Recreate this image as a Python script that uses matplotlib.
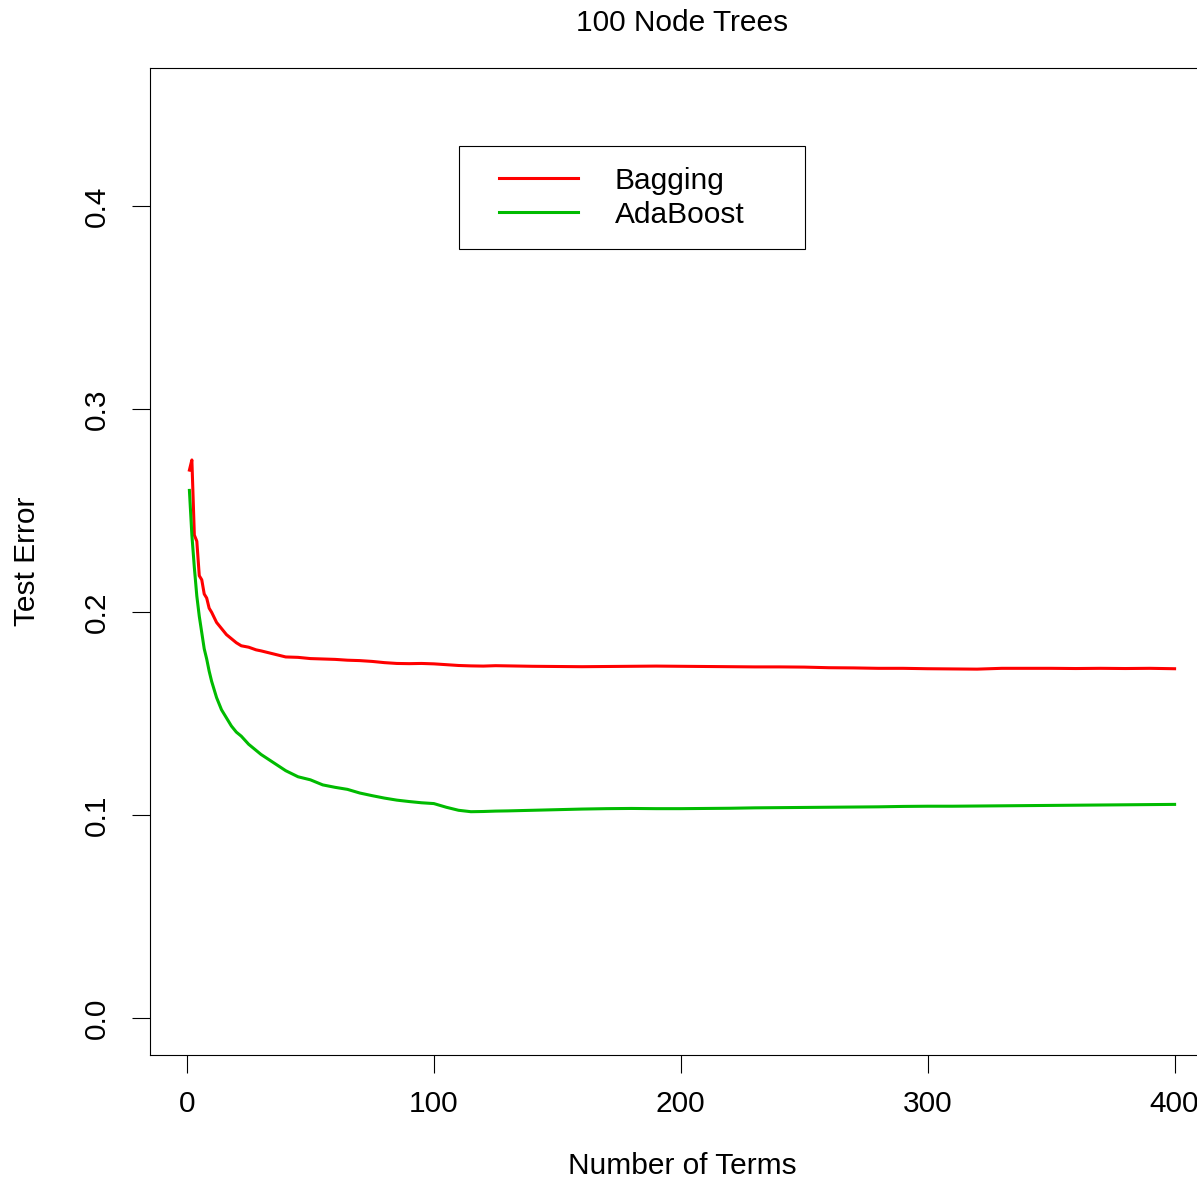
import numpy as np
import matplotlib
matplotlib.use("Agg")
import matplotlib.pyplot as plt
from matplotlib.patches import Rectangle

plt.rcParams['font.family'] = ['Liberation Sans', 'DejaVu Sans']

#### values ####
terms = [1, 2, 3, 4, 5, 6, 7, 8, 9, 10, 12, 14, 16, 18, 20, 22, 25, 28, 30,
         35, 40, 45, 50, 55, 60, 65, 70, 75, 80, 85, 90, 95, 100, 105, 110,
         115, 120, 125, 130, 140, 150, 160, 170, 180, 190, 200, 210, 220,
         230, 240, 250, 260, 270, 280, 290, 300, 310, 320, 330, 340, 350,
         360, 370, 380, 390, 400]

bagging = [0.270, 0.275, 0.238, 0.235, 0.218, 0.216, 0.209, 0.207, 0.202, 0.200,
           0.195, 0.192, 0.189, 0.187, 0.185, 0.1835, 0.1828, 0.1815, 0.181,
           0.1795, 0.178, 0.1778, 0.1772, 0.1770, 0.1768, 0.1764, 0.1762, 0.1758,
           0.1752, 0.1748, 0.1747, 0.1748, 0.1746, 0.1742, 0.1738, 0.1736, 0.1735,
           0.1737, 0.1736, 0.1734, 0.1733, 0.1732, 0.1733, 0.1734, 0.1735, 0.1734,
           0.1733, 0.1732, 0.1731, 0.1731, 0.1730, 0.1727, 0.1726, 0.1724, 0.1724,
           0.1722, 0.1721, 0.1720, 0.1724, 0.1724, 0.1724, 0.1723, 0.1724, 0.1723,
           0.1724, 0.1722]

adaboost = [0.260, 0.238, 0.222, 0.208, 0.198, 0.190, 0.182, 0.177, 0.171, 0.166,
            0.158, 0.152, 0.148, 0.144, 0.141, 0.139, 0.135, 0.132, 0.130,
            0.126, 0.122, 0.119, 0.1175, 0.115, 0.1138, 0.1128, 0.111, 0.1097,
            0.1085, 0.1075, 0.1068, 0.1062, 0.1058, 0.104, 0.1025, 0.1018, 0.1019,
            0.1021, 0.1022, 0.1025, 0.1028, 0.1031, 0.1033, 0.1034, 0.1033, 0.1033,
            0.1034, 0.1035, 0.1037, 0.1038, 0.1039, 0.1040, 0.1041, 0.1042, 0.1044,
            0.1045, 0.1045, 0.1046, 0.1047, 0.1048, 0.1049, 0.1050, 0.1051, 0.1052,
            0.1053, 0.1054]

x_ticks = [0, 100, 200, 300, 400]
y_ticks = [0.0, 0.1, 0.2, 0.3, 0.4]
y_tick_labels = ["0.0", "0.1", "0.2", "0.3", "0.4"]

W, H = 1197, 1180
FS = 21.5
fig = plt.figure(figsize=(W / 100, H / 100), dpi=100)

# plot region in pixels (right edge runs past the figure, as in the reference)
left, right, top, bottom = 150, 1214, 68, 1055
ax = fig.add_axes([left / W, (H - bottom) / H, (right - left) / W, (bottom - top) / H])

ax.plot(terms, bagging, color="#FF0000", lw=2.2, solid_joinstyle="round")
ax.plot(terms, adaboost, color="#00BB00", lw=2.2, solid_joinstyle="round")

# R style axis extension (4%)
ax.set_xlim(1 - 0.04 * 399, 400 + 0.04 * 399)
ax.set_ylim(-0.018, 0.468)

ax.set_xticks(x_ticks)
ax.set_yticks(y_ticks)
ax.set_yticklabels(y_tick_labels, rotation=90, va="center")
ax.tick_params(axis="both", direction="out", length=13, width=0.8, labelsize=FS, color="black")
ax.tick_params(axis="x", pad=12)
ax.tick_params(axis="y", pad=15)
for s in ["left", "top", "bottom", "right"]:
    ax.spines[s].set_linewidth(0.8)
    ax.spines[s].set_color("black")

ax.set_xlabel("Number of Terms", fontsize=FS, va="center")
ax.set_ylabel("Test Error", fontsize=FS, va="center")
ax.xaxis.set_label_coords(0.5, -(1166 - bottom) / (bottom - top))
ax.yaxis.set_label_coords(-(left - 27) / (right - left), 0.5)
fig.text(682 / W, 1 - 23 / H, "100 Node Trees", fontsize=FS, ha="center", va="center")

# legend: handles drawn by matplotlib, box drawn separately
leg = ax.legend(["Bagging", "AdaBoost"], loc="upper left",
                bbox_to_anchor=(484 / W, 1 - 152 / H), bbox_transform=fig.transFigure,
                frameon=False, fontsize=FS, handlelength=2.64, handletextpad=1.24,
                labelspacing=0.2, borderpad=0.0)
for line in leg.get_lines():
    line.set_linewidth(2.2)
fig.patches.append(Rectangle((459 / W, 1 - 249 / H), (805 - 459) / W, (249 - 146) / H,
                             transform=fig.transFigure, fill=False, edgecolor="black", lw=0.8))

fig.savefig("out.png", dpi=100)
